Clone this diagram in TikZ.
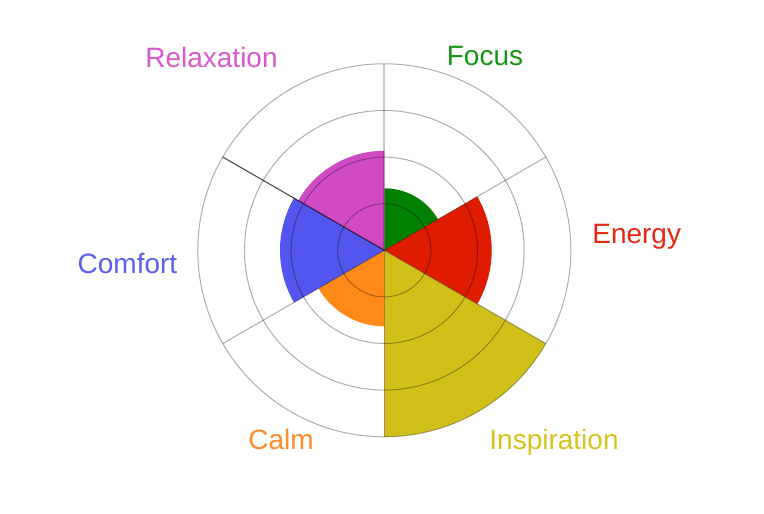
\documentclass[tikz,border=0pt]{standalone}
\usepackage{fontspec}
\setmainfont{Liberation Sans}
\definecolor{cFocus}{RGB}{0,128,0}
\definecolor{cEnergy}{RGB}{224,28,0}
\definecolor{cInsp}{RGB}{210,192,26}
\definecolor{cCalm}{RGB}{255,138,24}
\definecolor{cComfort}{RGB}{82,86,238}
\definecolor{cRelax}{RGB}{208,74,196}
\definecolor{lFocus}{RGB}{20,150,20}
\definecolor{lEnergy}{RGB}{230,40,20}
\definecolor{lInsp}{RGB}{212,196,30}
\definecolor{lCalm}{RGB}{255,140,40}
\definecolor{lComfort}{RGB}{90,95,240}
\definecolor{lRelax}{RGB}{214,90,206}
\tikzset{
  lab/.style={font=\fontsize{28}{34}\selectfont, anchor=base, inner sep=0pt},
  gridline/.style={draw=black, draw opacity=0.32, line width=1pt},
  lightspoke/.style={draw=black, draw opacity=0.22, line width=2.2pt},
  darkspoke/.style={draw=black, draw opacity=0.7, line width=1.1pt}
}
\begin{document}
\begin{tikzpicture}[x=1pt,y=1pt]
\useasboundingbox (0,0) rectangle (764,514);
\fill[white] (0,0) rectangle (764,514);
\coordinate (O) at (384.3,263.7);
% sectors
\fill[cFocus]   (O) -- ++(90:62pt)    arc[start angle=90,  end angle=30,   radius=62pt]    -- cycle;
\fill[cEnergy]  (O) -- ++(30:107.4pt) arc[start angle=30,  end angle=-30,  radius=107.4pt] -- cycle;
\fill[cInsp]    (O) -- ++(-30:186.5pt) arc[start angle=-30, end angle=-90, radius=186.5pt] -- cycle;
\fill[cCalm]    (O) -- ++(-90:76pt)   arc[start angle=-90, end angle=-150, radius=76pt]    -- cycle;
\fill[cComfort] (O) -- ++(-150:104.3pt) arc[start angle=-150, end angle=-210, radius=104.3pt] -- cycle;
\fill[cRelax]   (O) -- ++(150:99.5pt) arc[start angle=150, end angle=90,   radius=99.5pt]  -- cycle;
% grid
\foreach \r in {46.6,93.2,139.8,186.5}
  \draw[gridline] (O) circle[radius=\r pt];
\foreach \a in {30,-30,-90,-150}
  \draw[gridline] (O) -- ++(\a:186.5pt);
\draw[lightspoke] (O) -- ++(90:186.5pt);
\draw[darkspoke] (O) -- ++(150:186.5pt);
% labels
\node[lab, text=lRelax]   (relax)   at (211.5,446.9) {Relaxation};
\node[lab, text=lFocus]   (focus)   at (485.0,448.0) {Focus};
\node[lab, text=lEnergy]  (energy)  at (636.7,270.7) {Energy};
\node[lab, text=lComfort] (comfort) at (127.5,240.7) {Comfort};
\node[lab, text=lCalm]    (calm)    at (281.0,64.0)  {Calm};
\node[lab, text=lInsp]    (insp)    at (554.0,64.0)  {Inspiration};
\end{tikzpicture}
\end{document}
